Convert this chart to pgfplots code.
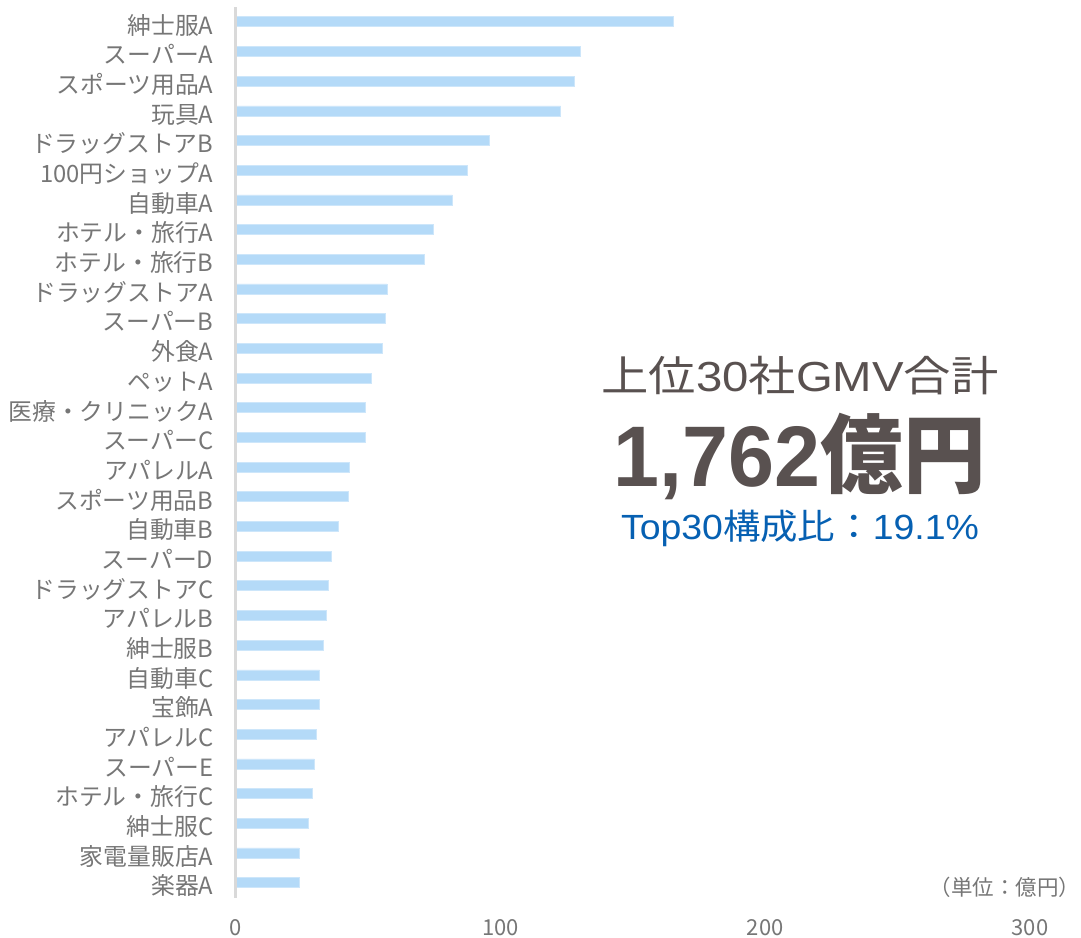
\documentclass[border=0pt]{standalone}
\usepackage{graphicx}
\usepackage{fontspec}
\setmainfont{Noto Sans CJK JP}
\newfontfamily\lat{Liberation Sans}
\usepackage{pgfplots}
\pgfplotsset{compat=1.18}
\definecolor{barblue}{RGB}{180,218,248}
\definecolor{baredge}{RGB}{205,230,250}
\definecolor{labgray}{RGB}{118,118,118}
\definecolor{axgray}{RGB}{217,217,217}
\definecolor{titlegray}{RGB}{89,81,80}
\definecolor{tblue}{RGB}{6,96,178}
\begin{document}
\begin{tikzpicture}
\path[use as bounding box] (-235.5pt,-39.5pt) rectangle (845.5pt,897.5pt);
\begin{axis}[
  at={(0pt,0pt)}, anchor=south west,
  scale only axis, width=794.5pt, height=890.5pt,
  xbar, bar width=10pt,
  xmin=0, xmax=300, ymin=-0.5, ymax=29.5, y dir=reverse,
  axis line style={draw=none},
  major tick length=0pt, tick style={draw=none},
  xtick={0,100,200,300},
  ytick={0,...,29},
  yticklabels={紳士服A,スーパーA,スポーツ用品A,玩具A,ドラッグストアB,100円ショップA,自動車A,ホテル・旅行A,ホテル・旅行B,ドラッグストアA,スーパーB,外食A,ペットA,医療・クリニックA,スーパーC,アパレルA,スポーツ用品B,自動車B,スーパーD,ドラッグストアC,アパレルB,紳士服B,自動車C,宝飾A,アパレルC,スーパーE,ホテル・旅行C,紳士服C,家電量販店A,楽器A},
  /pgf/number format/assume math mode=true,
  yticklabel style={font=\fontsize{23.8}{28}\selectfont, text=labgray, anchor=base east, inner sep=0pt, xshift=-22pt, yshift=-12.3pt},
  xticklabel style={font=\fontsize{22}{26}\selectfont, text=labgray, anchor=base, inner sep=0pt, yshift=-37.5pt},
  clip=false,
]
\addplot[fill=barblue, draw=baredge, line width=0.7pt] coordinates {
(165.5,0) (130.2,1) (127.8,2) (122.8,3) (95.7,4) (87.7,5) (81.9,6) (74.6,7) (71.2,8) (57.2,9)
(56.7,10) (55.6,11) (51.2,12) (48.9,13) (48.9,14) (43.0,15) (42.7,16) (38.8,17) (36.3,18) (35.2,19)
(34.4,20) (33.0,21) (31.8,22) (31.8,23) (30.5,24) (29.8,25) (28.9,26) (27.4,27) (24.0,28) (24.0,29)
};
\draw[line width=2.5pt, color=axgray] (axis cs:0,-0.5) -- (axis cs:0,29.5);
\end{axis}
\node[anchor=base, inner sep=0pt, text=titlegray] at (564.5pt,505.8pt)
  {\resizebox{397pt}{\height}{\fontsize{42}{50}\selectfont 上位{\lat 30}社{\lat GMV}合計}};
\node[anchor=base, inner sep=0pt, text=titlegray] at (564.5pt,410.8pt)
  {\resizebox{372pt}{\height}{\fontsize{86}{100}\selectfont\bfseries {\lat 1,762}億円}};
\node[anchor=base, inner sep=0pt, text=tblue] at (564.5pt,357.5pt)
  {\resizebox{358pt}{\height}{\fontsize{35}{42}\selectfont {\lat Top30}構成比：{\lat 19.1\%}}};
\node[anchor=base east, inner sep=0pt, text=labgray] at (845pt,2.5pt)
  {\fontsize{21.5}{25}\selectfont （単位：億円）};
\end{tikzpicture}
\end{document}
